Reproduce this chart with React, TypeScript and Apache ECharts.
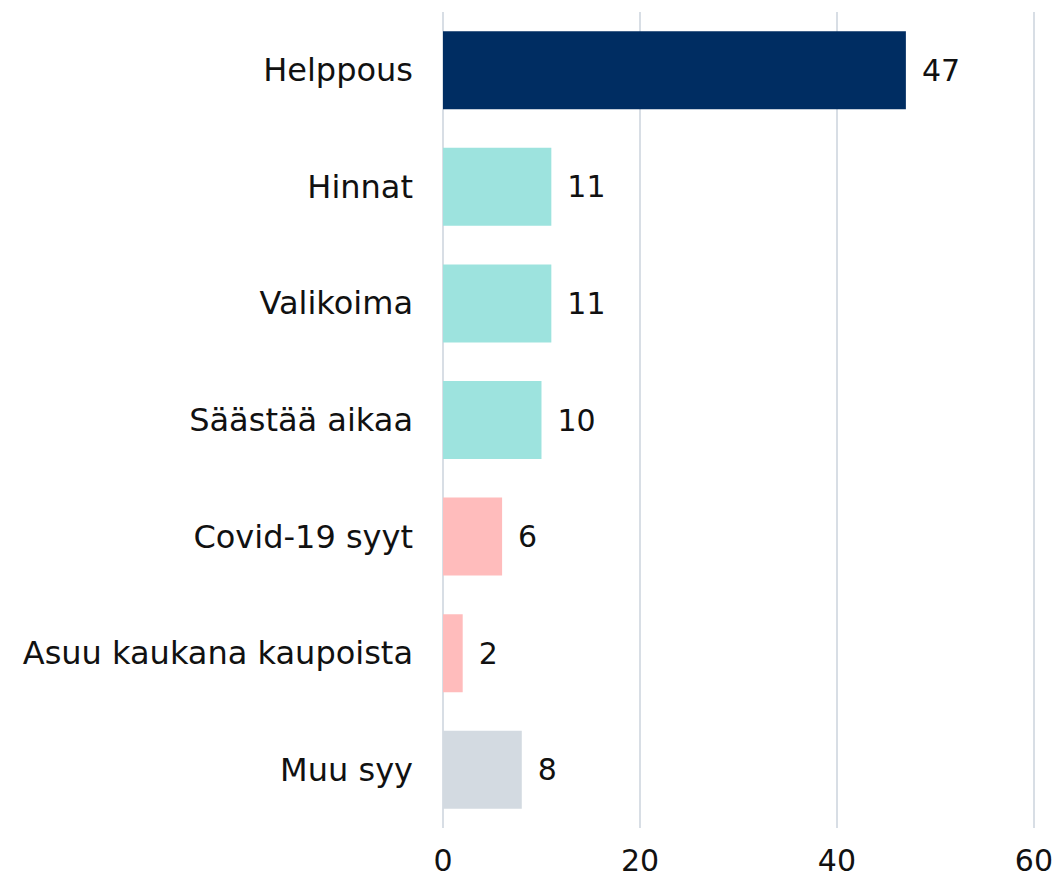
import React, { useEffect, useRef } from "react";
import * as echarts from "echarts";

const categories = ["Helppous", "Hinnat", "Valikoima", "Säästää aikaa", "Covid-19 syyt", "Asuu kaukana kaupoista", "Muu syy"];
const values = [47, 11, 11, 10, 6, 2, 8];
const colors = ["#002D62", "#9DE3DE", "#9DE3DE", "#9DE3DE", "#FFBCBC", "#FFBCBC", "#D3DAE1"];
const xTicks = { min: 0, max: 60, interval: 20 };

const FONT = "'DejaVu Sans', sans-serif";

export default function App() {
  const ref = useRef<HTMLDivElement>(null);
  useEffect(() => {
    if (!ref.current) return;
    const chart = echarts.init(ref.current, undefined, { renderer: "svg" });
    chart.setOption({
      animation: false,
      grid: { left: 443, right: 21, top: 12, bottom: 48, containLabel: false },
      xAxis: {
        type: "value",
        min: xTicks.min,
        max: xTicks.max,
        interval: xTicks.interval,
        axisLine: { show: false },
        axisTick: { show: false },
        splitLine: { show: true, lineStyle: { color: "#D8DEE5", width: 2 } },
        axisLabel: { color: "#111", fontSize: 30, fontFamily: FONT, margin: 17 },
      },
      yAxis: {
        type: "category",
        data: categories,
        inverse: true,
        axisLine: { show: false },
        axisTick: { show: false },
        axisLabel: { color: "#111", fontSize: 32, fontFamily: FONT, margin: 30 },
      },
      series: [
        {
          type: "bar",
          barWidth: 78,
          data: values.map((v, i) => ({ value: v, itemStyle: { color: colors[i] } })),
          label: {
            show: true,
            position: "right",
            distance: 16,
            color: "#111",
            fontSize: 30,
            fontFamily: FONT,
          },
        },
      ],
    });
    return () => chart.dispose();
  }, []);
  return <div ref={ref} style={{ width: 1056, height: 876, position: "absolute", left: 0, top: 0 }} />;
}
